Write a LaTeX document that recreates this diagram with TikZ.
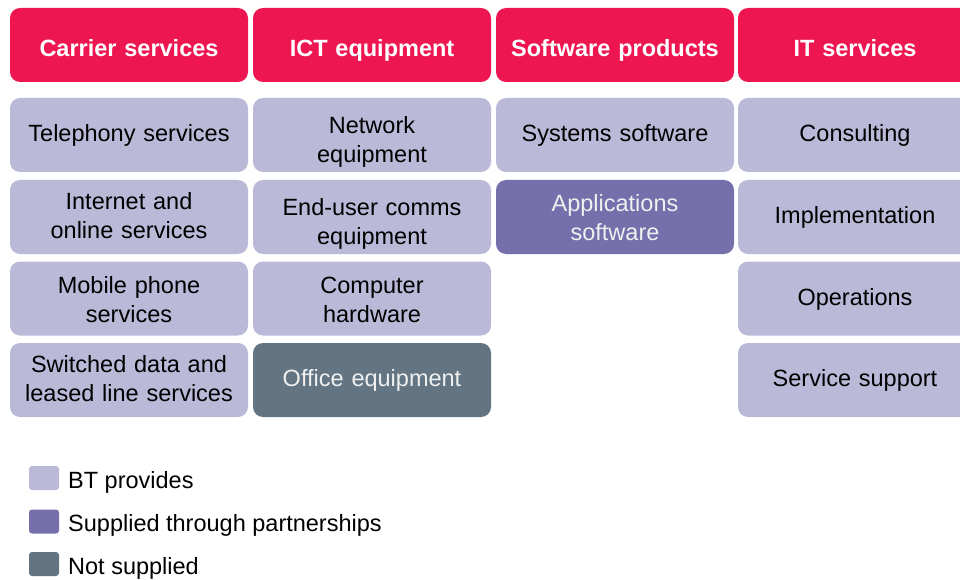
\documentclass[tikz,border=0pt]{standalone}
\usepackage{fontspec}
\setmainfont{Liberation Sans}
\definecolor{btred}{HTML}{EE1651}
\definecolor{btlilac}{HTML}{BBB9D8}
\definecolor{btpurple}{HTML}{7570AC}
\definecolor{btslate}{HTML}{637582}
% fixed top and bottom struts so every label sits at the same height
\newcommand{\topstrut}{\rule{0pt}{20.3pt}}
\newcommand{\cellfoot}{\rule[-6.7pt]{0pt}{6.7pt}}
\newcommand{\headtop}{\rule{0pt}{28.8pt}}
\newcommand{\headfoot}{\rule[-6pt]{0pt}{6pt}}
\tikzset{
  basecell/.style={rounded corners=10pt, minimum width=238pt, minimum height=74pt,
    inner sep=0pt, align=center, text width=230pt,
    font=\fontsize{23.5}{28.5}\selectfont},
  cell/.style={basecell, execute at begin node=\topstrut, execute at end node=\cellfoot},
  head/.style={basecell, fill=btred, text=white,
    font=\fontsize{23.5}{28.5}\selectfont\bfseries,
    execute at begin node=\headtop, execute at end node=\headfoot},
  provided/.style={cell, fill=btlilac, text=black},
  partner/.style={cell, fill=btpurple, text=white!94!black},
  notsupplied/.style={cell, fill=btslate, text=white!94!black},
  lastcol/.style={minimum width=234pt},
  % moves a label down inside its box by half the given amount
  lower/.style={execute at end node={\par\vspace*{-#1}}},
  swatch/.style={rounded corners=3pt, minimum width=30pt, minimum height=24pt, inner sep=0pt},
  legendtext/.style={anchor=base west, inner sep=0pt, font=\fontsize{23.5}{29}\selectfont}
}
\begin{document}
\begin{tikzpicture}[x=1pt,y=-1pt]
\useasboundingbox (0,0) rectangle (960,580);
\clip (0,0) rectangle (960,580);
% column headers
\node[head] (h1) at (129,45) {Carrier services};
\node[head] (h2) at (372,45) {ICT equipment};
\node[head] (h3) at (615,45) {Software products};
\node[head, lastcol] (h4) at (855,45) {IT services};
% carrier services
\node[provided] (c11) at (129,135) {Telephony services};
\node[provided] (c12) at (129,217) {Internet and\\online services};
\node[provided, lower=5pt] (c13) at (129,298.5) {Mobile phone\\services};
\node[provided] (c14) at (129,380) {Switched data and\\leased line services};
% ICT equipment
\node[provided, lower=12pt] (c21) at (372,135) {Network\\equipment};
\node[provided, lower=12pt] (c22) at (372,217) {End-user comms\\equipment};
\node[provided, lower=5pt] (c23) at (372,298.5) {Computer\\hardware};
\node[notsupplied] (c24) at (372,380) {Office equipment};
% software products
\node[provided] (c31) at (615,135) {Systems software};
\node[partner, lower=4pt] (c32) at (615,217) {Applications\\software};
% IT services
\node[provided, lastcol] (c41) at (855,135) {Consulting};
\node[provided, lastcol] (c42) at (855,217) {Implementation};
\node[provided, lastcol] (c43) at (855,298.5) {Operations};
\node[provided, lastcol] (c44) at (855,380) {Service support};
% legend
\node[swatch, fill=btlilac] (l1) at (44,478) {};
\node[legendtext] (t1) at (68,488) {BT provides};
\node[swatch, fill=btpurple] (l2) at (44,521.5) {};
\node[legendtext] (t2) at (68,531.5) {Supplied through partnerships};
\node[swatch, fill=btslate] (l3) at (44,564) {};
\node[legendtext] (t3) at (68,574) {Not supplied};
\end{tikzpicture}
\end{document}
